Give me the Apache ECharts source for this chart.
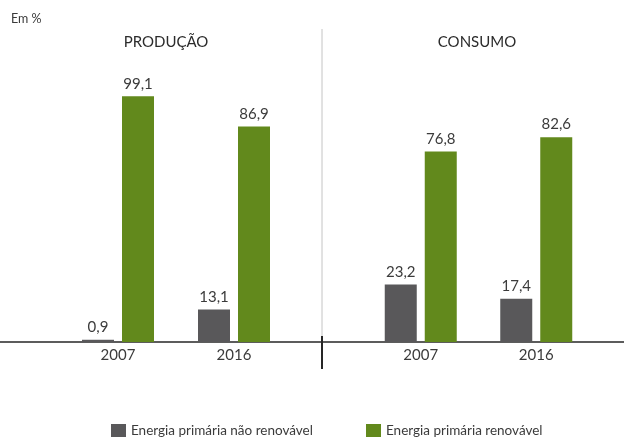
<!DOCTYPE html>
<html>
<head>
<meta charset="utf-8">
<script src="https://cdn.jsdelivr.net/npm/echarts@6/dist/echarts.min.js"></script>
<style>
  html, body {margin: 0; padding: 0; background: #fff;}
  #chart {width: 624px; height: 437px;}
</style>
</head>
<body>
<div id="chart"></div>
<script>
const years = ['2007', '2016']
const panels = ['PRODUÇÃO', 'CONSUMO']
const seriesNames = ['Energia primária não renovável', 'Energia primária renovável']
// producao / consumo, por ano
const producaoNaoRenov = [0.9, 13.1]
const producaoRenov = [99.1, 86.9]
const consumoNaoRenov = [23.2, 17.4]
const consumoRenov = [76.8, 82.6]

const grey = '#59585a'
const green = '#62891c'
const font = 'Lato'

let chart = echarts.init(document.getElementById('chart'))

const fmt = p => p.value.toFixed(1).replace('.', ',')

function bar(name, data, idx, color) {
  return {
    name: name,
    type: 'bar',
    xAxisIndex: idx,
    yAxisIndex: idx,
    data: data,
    barWidth: 32,
    barGap: '25%',
    itemStyle: {color: color},
    label: {
      show: true,
      position: 'top',
      distance: 5,
      formatter: fmt,
      color: '#3b3b3b',
      fontFamily: font,
      fontSize: 15
    },
    emphasis: {disabled: true}
  }
}

const xAxisCommon = {
  type: 'category',
  data: years,
  axisLine: {show: false},
  axisTick: {show: false},
  axisLabel: {color: '#3b3b3b', fontFamily: font, fontSize: 15, margin: 6}
}
const yAxisCommon = {
  type: 'value',
  min: 0,
  max: 100,
  show: false,
  splitLine: {show: false}
}

function legend(name, left) {
  return {
    data: [name],
    left: left,
    top: 424,
    padding: 0,
    itemWidth: 15,
    itemHeight: 14,
    itemGap: 7,
    icon: 'rect',
    textStyle: {color: '#3b3b3b', fontFamily: font, fontSize: 13.5},
    selectedMode: false
  }
}

let option = {
  animation: false,
  textStyle: {fontFamily: font},
  grid: [
    {left: 60, width: 232, top: 94, bottom: 95},
    {left: 363, width: 231, top: 94, bottom: 95}
  ],
  xAxis: [
    Object.assign({gridIndex: 0}, xAxisCommon),
    Object.assign({gridIndex: 1}, xAxisCommon)
  ],
  yAxis: [
    Object.assign({gridIndex: 0}, yAxisCommon),
    Object.assign({gridIndex: 1}, yAxisCommon)
  ],
  legend: [legend(seriesNames[0], 111), legend(seriesNames[1], 366)],
  graphic: [
    {type: 'text', left: 11, top: 12, style: {text: 'Em %', fill: '#3b3b3b', font: '12.5px ' + font}},
    {type: 'text', x: 166, y: 42, style: {text: panels[0], fill: '#2b2b2b', font: '15px ' + font, textAlign: 'center', textVerticalAlign: 'middle'}},
    {type: 'text', x: 477, y: 42, style: {text: panels[1], fill: '#2b2b2b', font: '15px ' + font, textAlign: 'center', textVerticalAlign: 'middle'}},
    {type: 'line', shape: {x1: 322, y1: 29, x2: 322, y2: 340}, style: {stroke: '#c4c4c4', lineWidth: 1}},
    {type: 'line', shape: {x1: 0, y1: 342, x2: 624, y2: 342}, style: {stroke: '#262626', lineWidth: 1.5}},
    {type: 'line', shape: {x1: 322, y1: 336, x2: 322, y2: 369}, style: {stroke: '#262626', lineWidth: 2}}
  ],
  series: [
    bar(seriesNames[0], producaoNaoRenov, 0, grey),
    bar(seriesNames[1], producaoRenov, 0, green),
    bar(seriesNames[0], consumoNaoRenov, 1, grey),
    bar(seriesNames[1], consumoRenov, 1, green)
  ]
}

chart.setOption(option)
</script>
</body>
</html>
